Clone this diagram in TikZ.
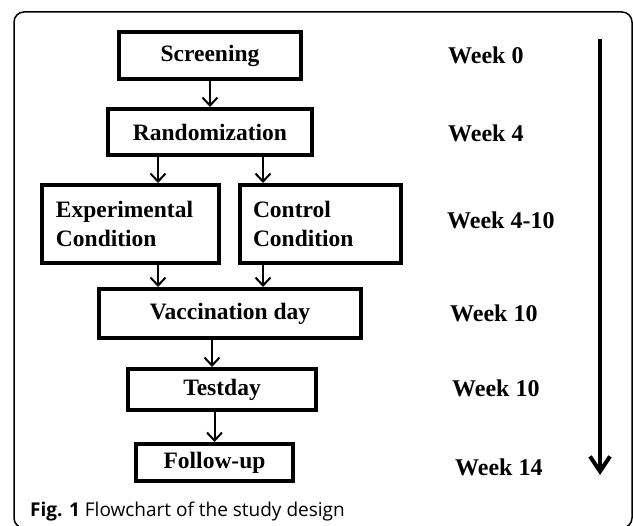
\documentclass[tikz,border=0pt]{standalone}
\usepackage{fontspec}
\setmainfont{Liberation Serif}
\newfontfamily\capfont{Open Sans}
\usetikzlibrary{arrows.meta,calc}

\tikzset{
    stage/.style={draw, line width=4pt, inner sep=0pt, font=\bfseries\fontsize{23.5}{29}\selectfont},
    conn/.style={line width=2pt, -{Straight Barb[length=8pt,width=15pt]}},
    week/.style={anchor=west, inner sep=0pt, font=\bfseries\fontsize{24}{28}\selectfont}
}

\begin{document}
\begin{tikzpicture}[x=1pt,y=-1pt]
    \useasboundingbox (0,0) rectangle (633,526);
    \clip (0,0) rectangle (633,526);
    % outer frame
    \draw[line width=1.5pt, rounded corners=10pt] (14,12) rectangle (632,528);

    % stages
    \node[stage, minimum width=182pt, minimum height=47pt] (screen) at (210,55.5) {Screening};
    \node[stage, minimum width=204pt, minimum height=46pt] (rand) at (210,132) {Randomization};
    \node[stage, minimum width=177pt, minimum height=78pt, text width=149pt, align=left] (exp) at (130.5,224) {Experimental\\Condition};
    \node[stage, minimum width=161pt, minimum height=78pt, text width=135pt, align=left] (ctrl) at (320.5,224) {Control\\Condition};
    \node[stage, minimum width=262pt, minimum height=49pt] (vacc) at (230,313.5) {Vaccination day};
    \node[stage, minimum width=188pt, minimum height=41pt] (test) at (222,389.5) {Testday};
    \node[stage, minimum width=157pt, minimum height=37pt] (follow) at (214.5,462.5) {Follow-up};

    % connectors
    \draw[conn] (screen.south) -- (rand.north);
    \draw[conn] ([xshift=-52pt]rand.south) -- ([xshift=-52pt]rand.south |- exp.north);
    \draw[conn] ([xshift=53pt]rand.south) -- ([xshift=53pt]rand.south |- ctrl.north);
    \draw[conn] ([xshift=27.5pt]exp.south) -- ([xshift=27.5pt]exp.south |- vacc.north);
    \draw[conn] ([xshift=-57.5pt]ctrl.south) -- ([xshift=-57.5pt]ctrl.south |- vacc.north);
    \draw[conn] ([xshift=-18pt]vacc.south) -- ([xshift=-18pt]vacc.south |- test.north);
    \draw[conn] (follow.north |- test.south) -- (follow.north);

    % time line
    \node[week] (w0) at (448,55) {Week 0};
    \node[week] (w4) at (448,133) {Week 4};
    \node[week] (w410) at (447,220) {Week 4-10};
    \node[week] (w10a) at (450,313) {Week 10};
    \node[week] (w10b) at (452,388) {Week 10};
    \node[week] (w14) at (455,467) {Week 14};
    \coordinate (tstart) at (600,39);
    \coordinate (tend) at (600,475);
    \draw[line width=4pt, -{Straight Barb[length=15pt,width=20pt]}] (tstart) -- (tend);

    % caption
    \node[anchor=base west, inner sep=0pt, font=\capfont\fontsize{19}{22}\selectfont] (cap) at (30,517) {\textbf{Fig. 1} Flowchart of the study design};
\end{tikzpicture}
\end{document}
